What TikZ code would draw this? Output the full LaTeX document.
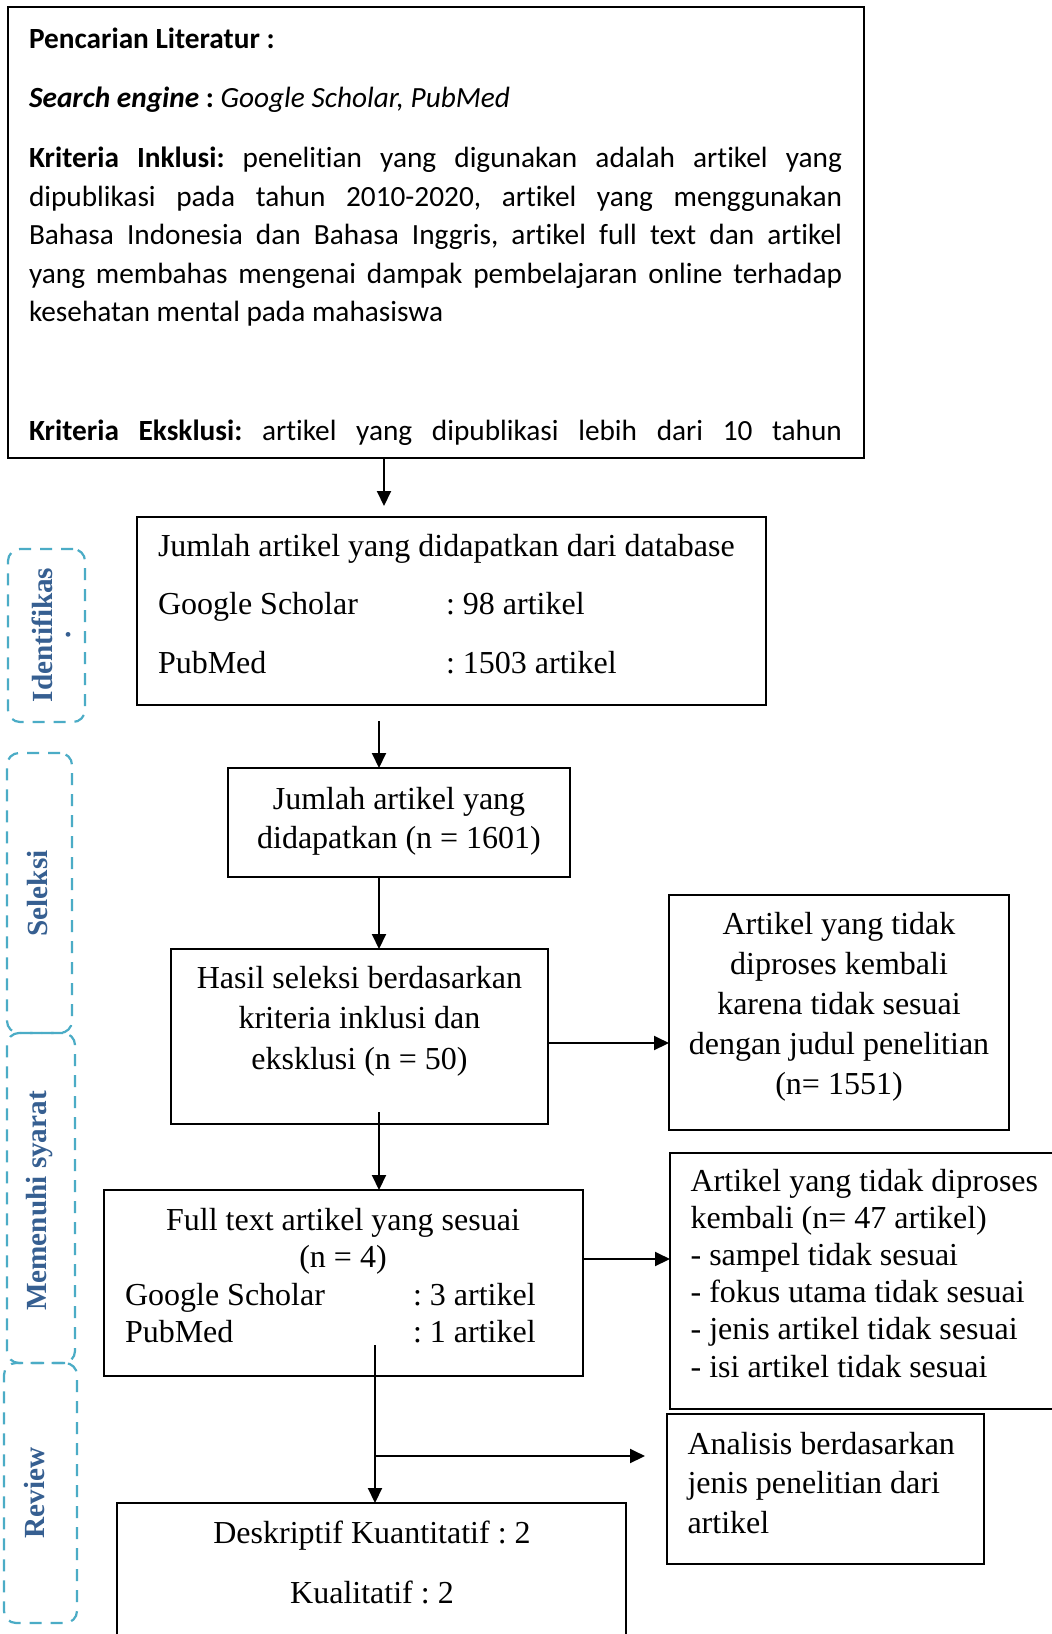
\documentclass[tikz,border=0pt]{standalone}
\usepackage{fontspec}
\setmainfont{Liberation Serif}[Ligatures=NoCommon]
\newfontfamily\calibri{Carlito}[Ligatures=NoCommon]
\usetikzlibrary{positioning, arrows.meta, calc, fit}
\definecolor{sidedash}{HTML}{4BACC6}
\definecolor{sidetext}{HTML}{365F91}
\frenchspacing

\begin{document}
\begin{tikzpicture}[x=0.5pt, y=-0.5pt,
      every node/.style={inner sep=0pt, outer sep=0pt},
      box/.style={draw, line width=0.9pt, inner sep=0pt},
      side/.style={draw=sidedash, line width=1.1pt, dash pattern=on 6pt off 4.5pt, rounded corners=6pt, inner sep=0pt},
      sidelabel/.style={rotate=90, text=sidetext, font=\bfseries\fontsize{14.6}{17}\selectfont},
      txt/.style={font=\fontsize{16}{19.5}\selectfont},
      cal/.style={font=\calibri\fontsize{14.65}{19.25}\selectfont},
      arr/.style={-{Triangle[length=7.5pt, width=7pt]}, line width=1pt}]
    \path[fill=white, use as bounding box] (0,0) rectangle (1052,1634);

    % literature search
    \node[box, line width=1pt, fit={(8,7) (864,458)}] (lit) {};
    \node[cal, anchor=base west] (head) at (29,48) {\textbf{Pencarian Literatur :}};
    \node[cal, anchor=base west] (engine) at (29,107) {\textbf{\textit{Search engine}} \textbf{:} \textit{Google Scholar, PubMed}};
    \node[cal, anchor=base west, text width=406.5pt, align=justify] (incl) at (29,167.6)
      {\textbf{Kriteria Inklusi:} penelitian yang digunakan adalah artikel yang\linebreak
       dipublikasi pada tahun 2010-2020, artikel yang menggunakan\linebreak
       Bahasa Indonesia dan Bahasa Inggris, artikel full text dan artikel\linebreak
       yang membahas mengenai dampak pembelajaran online terhadap\linebreak
       kesehatan mental pada mahasiswa};
    \node[cal, anchor=base west] (excl) at (29,440.5)
      {\makebox[406.5pt][s]{\textbf{Kriteria Eksklusi:} artikel yang dipublikasi lebih dari 10 tahun}};

    % database
    \node[box, fit={(137,517) (766,705)}] (db) {};
    \node[txt, anchor=base west] (dbhead) at (158,556) {Jumlah artikel yang didapatkan dari database};
    \node[txt, anchor=base west] (dbgs) at (158,614) {Google Scholar};
    \node[txt, anchor=base west] (dbgsn) at (446,614) {: 98 artikel};
    \node[txt, anchor=base west] (dbpm) at (158,673) {PubMed};
    \node[txt, anchor=base west] (dbpmn) at (446,673) {: 1503 artikel};

    % found
    \node[box, fit={(228,768) (570,877)}] (found) {};
    \node[txt, align=center, anchor=base] (foundtxt) at (399,848) {Jumlah artikel yang\\didapatkan (n = 1601)};

    % selection
    \node[box, fit={(171,949) (548,1124)}] (sel) {};
    \node[txt, font=\fontsize{16}{20.25}\selectfont, align=center, anchor=base] (seltxt) at (359.5,1069)
      {Hasil seleksi berdasarkan\\kriteria inklusi dan\\eksklusi (n = 50)};

    \node[box, fit={(669,895) (1009,1130)}] (excla) {};
    \node[txt, font=\fontsize{16}{19.9}\selectfont, align=center, anchor=base] (exclatxt) at (839,1094)
      {Artikel yang tidak\\diproses kembali\\karena tidak sesuai\\dengan judul penelitian\\(n= 1551)};

    % full text
    \node[box, fit={(104,1190) (583,1376)}] (full) {};
    \node[txt, font=\fontsize{16}{18.75}\selectfont, align=center, anchor=base] (fulltxt) at (343,1267.5)
      {Full text artikel yang sesuai\\(n = 4)};
    \node[txt, anchor=base west] (fullgs) at (125,1305) {Google Scholar};
    \node[txt, anchor=base west] (fullgsn) at (413,1305) {: 3 artikel};
    \node[txt, anchor=base west] (fullpm) at (125,1342.5) {PubMed};
    \node[txt, anchor=base west] (fullpmn) at (413,1342.5) {: 1 artikel};

    \node[box, fit={(670,1153) (1070,1409)}] (exclb) {};
    \node[txt, font=\fontsize{16}{18.55}\selectfont, align=left, anchor=base west] (exclbtxt) at (690.6,1377)
      {Artikel yang tidak diproses\\kembali (n= 47 artikel)\\- sampel tidak sesuai\\- fokus utama tidak sesuai\\- jenis artikel tidak sesuai\\- isi artikel tidak sesuai};

    % analysis
    \node[box, fit={(667,1414) (984,1564)}] (anal) {};
    \node[txt, font=\fontsize{16}{19.75}\selectfont, align=left, anchor=base west] (analtxt) at (687.5,1533)
      {Analisis berdasarkan\\jenis penelitian dari\\artikel};

    \node[box, fit={(117,1503) (626,1660)}] (res) {};
    \node[txt, anchor=base] (resa) at (372,1543) {Deskriptif Kuantitatif : 2};
    \node[txt, anchor=base] (resb) at (372,1603) {Kualitatif : 2};

    % stages
    \node[side, fit={(8,549) (85,722)}] (iden) {};
    \node[sidelabel] (identxt) at (42,635) {Identifikas};
    \node[sidelabel] (idendot) at (69,635) {.};
    \node[side, fit={(7,753) (72,1033)}] (seleksi) {};
    \node[sidelabel] (seleksitxt) at (38,893.5) {Seleksi};
    \node[side, fit={(7,1033) (75,1363)}] (syarat) {};
    \node[sidelabel] (syarattxt) at (40,1201) {Memenuhi syarat};
    \node[side, fit={(4,1363) (77,1623)}] (review) {};
    \node[sidelabel] (reviewtxt) at (35,1493) {Review};

    % connectors
    \coordinate (c1) at (384,506);
    \coordinate (c2) at (379,721);
    \coordinate (c3) at (0,1043);
    \coordinate (c4) at (379,1112);
    \coordinate (c5) at (0,1259);
    \coordinate (c6) at (375,1345);
    \coordinate (c7) at (375,1456);
    \coordinate (c8) at (645,1456);
    \draw[arr] (lit.south -| c1) -- (c1);
    \draw[arr] (c2) -- (c2 |- found.north);
    \draw[arr] (found.south -| c2) -- (c2 |- sel.north);
    \draw[arr] (sel.east |- c3) -- (excla.west |- c3);
    \draw[arr] (c4) -- (c4 |- full.north);
    \draw[arr] (full.east |- c5) -- (exclb.west |- c5);
    \draw[arr] (c6) -- (c6 |- res.north);
    \draw[arr] (c7) -- (c8);
  \end{tikzpicture}
\end{document}
